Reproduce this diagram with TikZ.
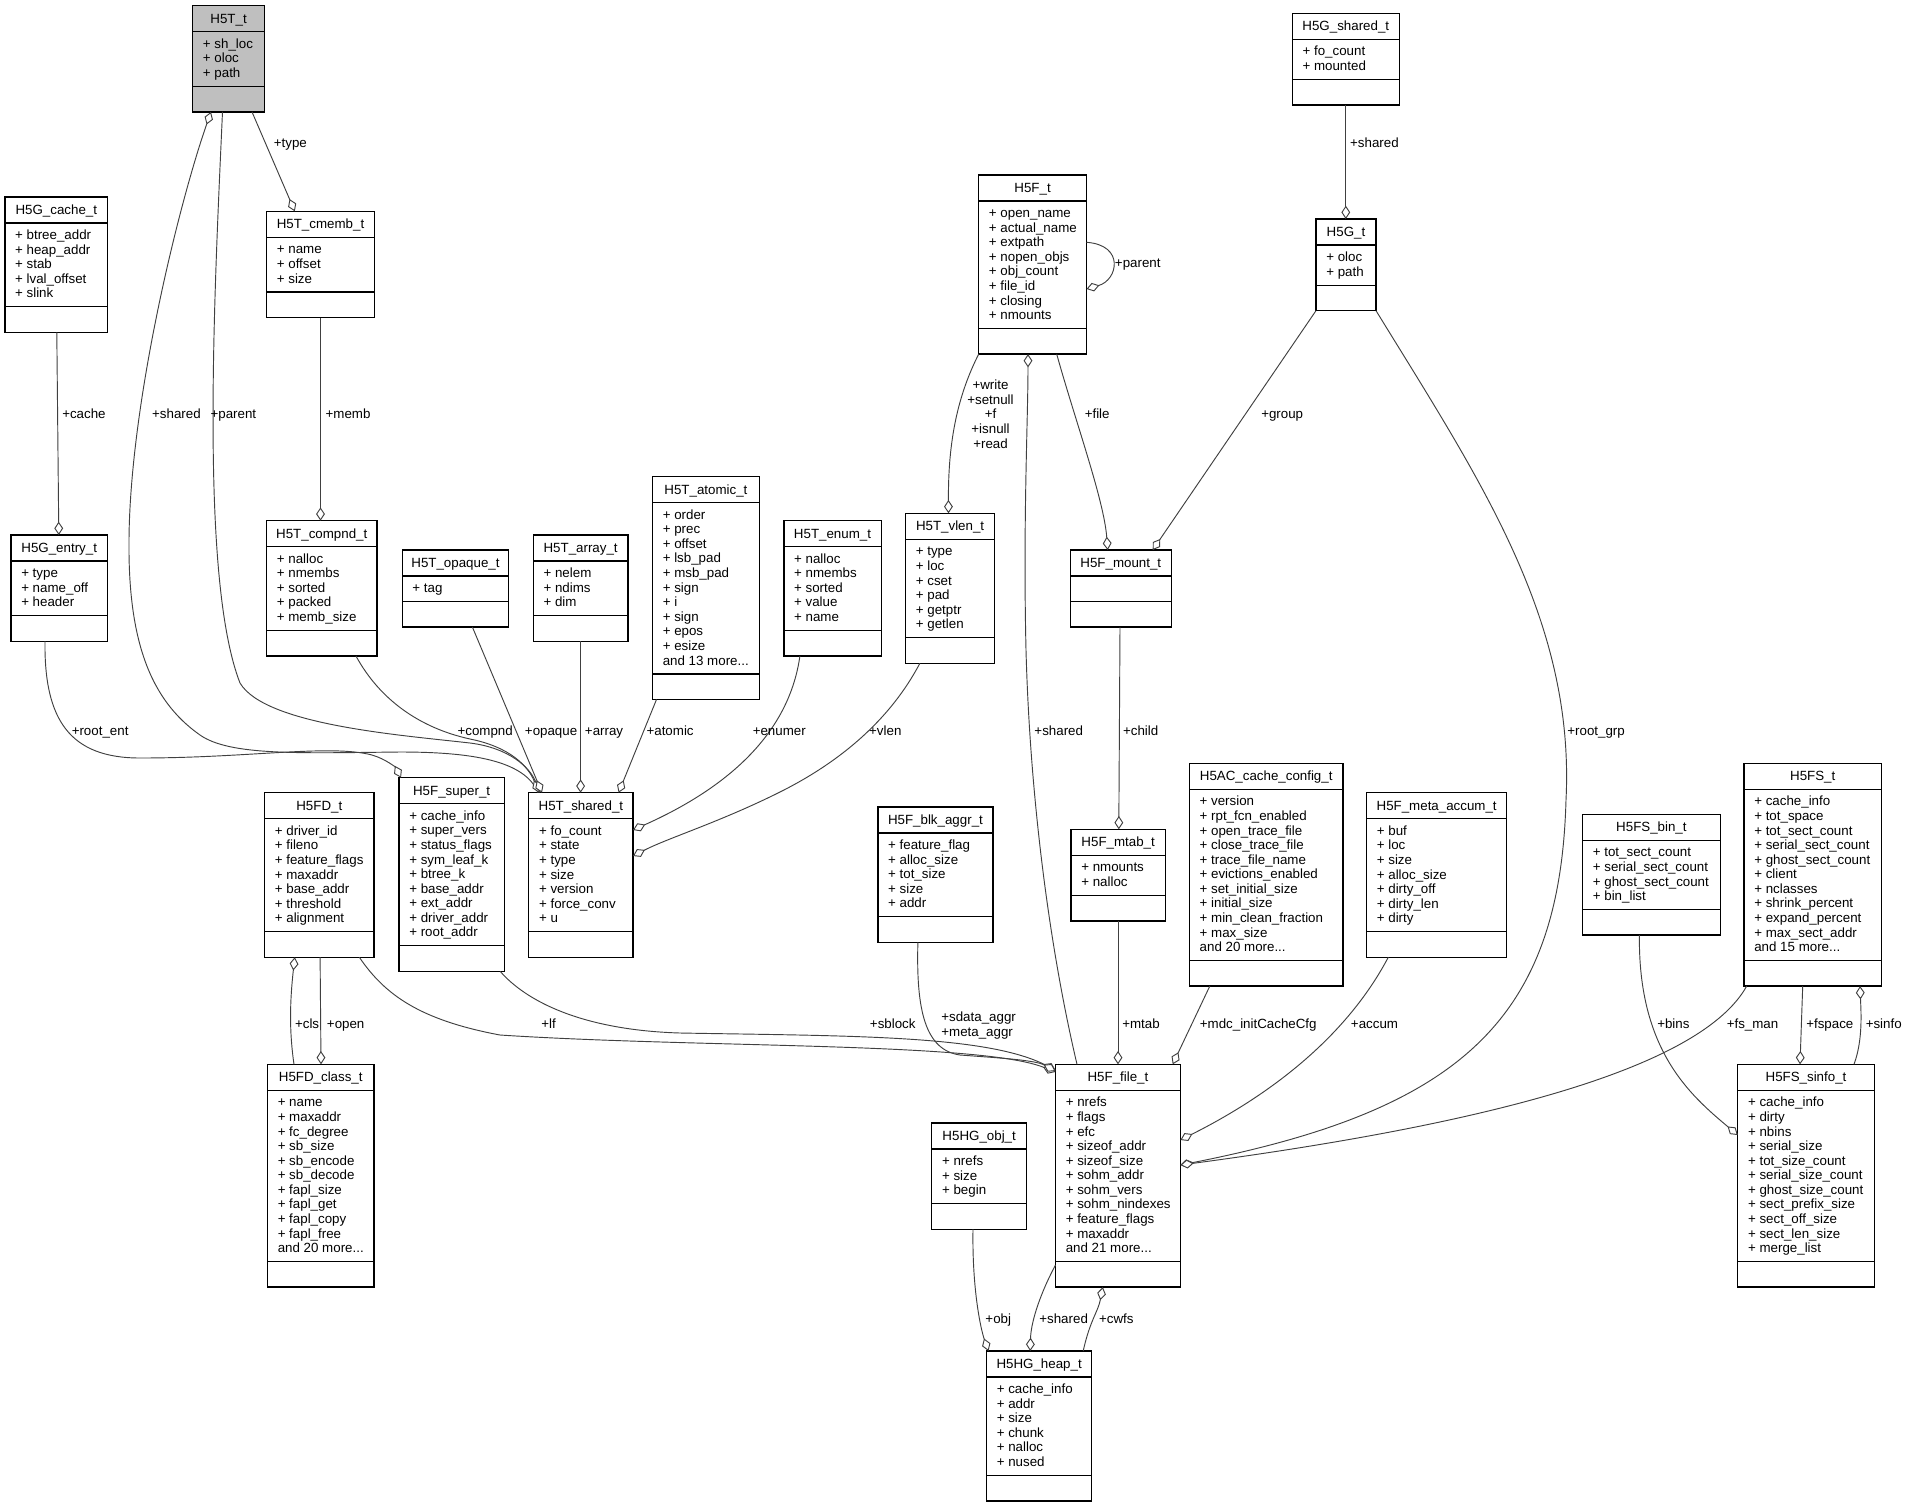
\documentclass[tikz,border=0pt]{standalone}
\usepackage{fontspec}
\setmainfont{Liberation Sans}
\usetikzlibrary{arrows.meta,calc}
\definecolor{edgecol}{HTML}{404040}
\definecolor{hdrgray}{HTML}{BFBFBF}
\tikzset{
  classbox/.style={draw=black, line width=0.9pt, fill=white, anchor=north west, inner sep=0pt, outer sep=0pt},
  classline/.style={draw=black, line width=0.9pt},
  titletext/.style={anchor=base, inner sep=0pt},
  attrtext/.style={anchor=north west, align=left, inner sep=0pt},
  edge/.style={draw=edgecol, line width=0.7pt},
  agg/.style={-{Diamond[fill=white,length=10pt,width=6.6pt]}},
  lbl/.style={anchor=base west, inner sep=0pt},
  lblml/.style={align=left, anchor=north west, inner sep=0pt}
}
% #1 extra style, #2 name, #3 x left, #4 y top, #5 x right, #6 attribute lines, #7 title, #8 attributes
\newcommand{\umlclass}[8][]{%
  \pgfmathsetmacro{\ucw}{(#5-#3)*0.75}%
  \pgfmathsetmacro{\ucm}{#6*14.57+11}%
  \pgfmathsetmacro{\uch}{(51.5+\ucm)*0.75}%
  \node[classbox,#1,minimum width=\ucw pt,minimum height=\uch pt] (#2) at (#3,#4) {};
  \draw[classline] (#3,#4+26) -- (#5,#4+26);
  \draw[classline] (#3,#4+26+\ucm) -- (#5,#4+26+\ucm);
  \node[titletext] (#2-t) at ({(#3+#5)/2},#4+17.3) {#7};
  \node[attrtext] (#2-a) at (#3+10,#4+32.1) {#8};
}
\begin{document}
\begin{tikzpicture}[x=0.75pt,y=-0.75pt,font=\fontsize{10}{10.93}\selectfont]
\fill[white] (0,0) rectangle (1907,1507);
\useasboundingbox (0,0) rectangle (1907,1507);

% ---------- classes ----------
\umlclass[fill=hdrgray]{H5Tt}{192.7}{5.7}{264.5}{3}{H5T\_t}{\strut + sh\_loc\\+ oloc\\+ path}
\umlclass{H5Gcache}{4.9}{197}{107.8}{5}{H5G\_cache\_t}{\strut + btree\_addr\\+ heap\_addr\\+ stab\\+ lval\_offset\\+ slink}
\umlclass{H5Tcmemb}{266.6}{211.3}{374.4}{3}{H5T\_cmemb\_t}{\strut + name\\+ offset\\+ size}
\umlclass{H5Ft}{978.7}{175}{1086.5}{8}{H5F\_t}{\strut + open\_name\\+ actual\_name\\+ extpath\\+ nopen\_objs\\+ obj\_count\\+ file\_id\\+ closing\\+ nmounts}
\umlclass{H5Gshared}{1292.3}{13.3}{1399.3}{2}{H5G\_shared\_t}{\strut + fo\_count\\+ mounted}
\umlclass{H5Gt}{1316}{219}{1376}{2}{H5G\_t}{\strut + oloc\\+ path}
\umlclass{H5Gentry}{11}{535}{107.4}{3}{H5G\_entry\_t}{\strut + type\\+ name\_off\\+ header}
\umlclass{H5Tcompnd}{266.6}{520.7}{376.9}{5}{H5T\_compnd\_t}{\strut + nalloc\\+ nmembs\\+ sorted\\+ packed\\+ memb\_size}
\umlclass{H5Topaque}{402.2}{550}{508.8}{1}{H5T\_opaque\_t}{\strut + tag}
\umlclass{H5Tarray}{533.3}{535}{628}{3}{H5T\_array\_t}{\strut + nelem\\+ ndims\\+ dim}
\umlclass{H5Tshared}{528.8}{792.7}{633}{7}{H5T\_shared\_t}{\strut + fo\_count\\+ state\\+ type\\+ size\\+ version\\+ force\_conv\\+ u}
\umlclass{H5Fsuper}{399}{777.7}{504.3}{9}{H5F\_super\_t}{\strut + cache\_info\\+ super\_vers\\+ status\_flags\\+ sym\_leaf\_k\\+ btree\_k\\+ base\_addr\\+ ext\_addr\\+ driver\_addr\\+ root\_addr}
\umlclass{H5FDt}{264.6}{792.7}{374}{7}{H5FD\_t}{\strut + driver\_id\\+ fileno\\+ feature\_flags\\+ maxaddr\\+ base\_addr\\+ threshold\\+ alignment}
\umlclass{H5Tatomic}{652.5}{476.7}{759.4}{11}{H5T\_atomic\_t}{\strut + order\\+ prec\\+ offset\\+ lsb\_pad\\+ msb\_pad\\+ sign\\+ i\\+ sign\\+ epos\\+ esize\\and 13 more...}
\umlclass{H5Tenum}{783.9}{520.7}{881.1}{5}{H5T\_enum\_t}{\strut + nalloc\\+ nmembs\\+ sorted\\+ value\\+ name}
\umlclass{H5Tvlen}{905.6}{513.3}{994.6}{6}{H5T\_vlen\_t}{\strut + type\\+ loc\\+ cset\\+ pad\\+ getptr\\+ getlen}
\umlclass{H5Fmount}{1070.2}{550}{1171.4}{1}{H5F\_mount\_t}{}
\umlclass{H5Fmtab}{1071}{829.3}{1165.3}{2}{H5F\_mtab\_t}{\strut + nmounts\\+ nalloc}
\umlclass{H5Fblk}{877.9}{807}{993}{5}{H5F\_blk\_aggr\_t}{\strut + feature\_flag\\+ alloc\_size\\+ tot\_size\\+ size\\+ addr}
\umlclass{H5ACcc}{1189.4}{763.3}{1343}{11}{H5AC\_cache\_config\_t}{\strut + version\\+ rpt\_fcn\_enabled\\+ open\_trace\_file\\+ close\_trace\_file\\+ trace\_file\_name\\+ evictions\_enabled\\+ set\_initial\_size\\+ initial\_size\\+ min\_clean\_fraction\\+ max\_size\\and 20 more...}
\umlclass{H5Fmeta}{1366.6}{792.7}{1506.7}{7}{H5F\_meta\_accum\_t}{\strut + buf\\+ loc\\+ size\\+ alloc\_size\\+ dirty\_off\\+ dirty\_len\\+ dirty}
\umlclass{H5FSbin}{1582.6}{814.3}{1720.2}{4}{H5FS\_bin\_t}{\strut + tot\_sect\_count\\+ serial\_sect\_count\\+ ghost\_sect\_count\\+ bin\_list}
\umlclass{H5FS}{1744}{763.3}{1881.5}{11}{H5FS\_t}{\strut + cache\_info\\+ tot\_space\\+ tot\_sect\_count\\+ serial\_sect\_count\\+ ghost\_sect\_count\\+ client\\+ nclasses\\+ shrink\_percent\\+ expand\_percent\\+ max\_sect\_addr\\and 15 more...}
\umlclass{H5FDclass}{267.5}{1064.3}{374}{11}{H5FD\_class\_t}{\strut + name\\+ maxaddr\\+ fc\_degree\\+ sb\_size\\+ sb\_encode\\+ sb\_decode\\+ fapl\_size\\+ fapl\_get\\+ fapl\_copy\\+ fapl\_free\\and 20 more...}
\umlclass{H5Ffile}{1055.5}{1064.3}{1180.4}{11}{H5F\_file\_t}{\strut + nrefs\\+ flags\\+ efc\\+ sizeof\_addr\\+ sizeof\_size\\+ sohm\_addr\\+ sohm\_vers\\+ sohm\_nindexes\\+ feature\_flags\\+ maxaddr\\and 21 more...}
\umlclass{H5HGobj}{931.8}{1123}{1026.5}{3}{H5HG\_obj\_t}{\strut + nrefs\\+ size\\+ begin}
\umlclass{H5HGheap}{986.5}{1351}{1091.8}{6}{H5HG\_heap\_t}{\strut + cache\_info\\+ addr\\+ size\\+ chunk\\+ nalloc\\+ nused}
\umlclass{H5FSsinfo}{1737.8}{1064.3}{1874.2}{11}{H5FS\_sinfo\_t}{\strut + cache\_info\\+ dirty\\+ nbins\\+ serial\_size\\+ tot\_size\_count\\+ serial\_size\_count\\+ ghost\_size\_count\\+ sect\_prefix\_size\\+ sect\_off\_size\\+ sect\_len\_size\\+ merge\_list}

% ---------- connectors ----------
\draw[edge,agg] (H5Tshared.north -| 538,0) .. controls (525,760) and (470,752) .. (400,752) .. controls (300,753) and (230,756) .. (200,735) .. controls (150,700) and (128,640) .. (129,540) .. controls (130,400) and (180,200) .. (H5Tt.south -| 211,0);
\draw[edge,agg] (H5Tt.south -| 222.5,0) .. controls (214,300) and (200,580) .. (240,683) .. controls (265,725) and (400,735) .. (470,743) .. controls (510,748) and (530,768) .. (H5Tshared.north -| 540,0);
\draw[edge,agg] (H5Tt.south -| 252,0) -- (H5Tcmemb.north -| 294.8,0);
\draw[edge,agg] (H5Gcache.south -| 56.8,0) -- (H5Gentry.north -| 58.8,0);
\draw[edge,agg] (H5Tcmemb.south -| 320.5,0) -- (H5Tcompnd.north -| 320.5,0);
\draw[edge,agg] (H5Gentry.south -| 45,0) .. controls (44,720) and (70,758) .. (140,758) .. controls (250,758) and (330,744) .. (372,755) .. controls (386,759) and (396,768) .. (H5Fsuper.north -| 401,0);
\draw[edge,agg] (H5Tcompnd.south -| 356,0) .. controls (380,700) and (420,728) .. (470,739) .. controls (510,747) and (528,766) .. (H5Tshared.north -| 539,0);
\draw[edge,agg] (H5Topaque.south -| 472.4,0) -- (H5Tshared.north -| 542,0);
\draw[edge,agg] (H5Tarray.south -| 580.6,0) -- (H5Tshared.north -| 580.6,0);
\draw[edge,agg] (H5Tatomic.south -| 656.5,0) -- (H5Tshared.north -| 618.6,0);
\draw[edge,agg] (H5Tenum.south -| 799.9,0) .. controls (788,740) and (718,792) .. (H5Tshared.east |- 0,830);
\draw[edge,agg] (H5Tvlen.south -| 919.9,0) .. controls (890,720) and (840,762) .. (780,792) .. controls (720,822) and (668,838) .. (H5Tshared.east |- 0,856);
\draw[edge,agg] (H5Ft.south west) .. controls (958,395) and (948,440) .. (H5Tvlen.north -| 948.5,0);
\draw[edge,agg] (H5Ft.east |- 0,242.3) .. controls (1125,245) and (1118,280) .. (H5Ft.east |- 0,289);
\draw[edge,agg] (H5Ffile.north -| 1077,0) .. controls (1050,950) and (1030,800) .. (1026,650) .. controls (1023,520) and (1028,420) .. (H5Ft.south -| 1028,0);
\draw[edge,agg] (H5Ft.south -| 1056.7,0) .. controls (1075,420) and (1104,500) .. (H5Fmount.north -| 1107.7,0);
\draw[edge,agg] (H5Gt.south west) -- (H5Fmount.north -| 1152.7,0);
\draw[edge,agg] (H5Gshared.south -| 1345.8,0) -- (H5Gt.north -| 1345.8,0);
\draw[edge,agg] (H5Gt.south east) .. controls (1480,480) and (1575,620) .. (1566,800) .. controls (1560,1020) and (1460,1110) .. (H5Ffile.east |- 0,1165);
\draw[edge,agg] (H5Fmount.south -| 1120,0) -- (H5Fmtab.north -| 1118.8,0);
\draw[edge,agg] (H5Fmtab.south -| 1118,0) -- (H5Ffile.north -| 1118,0);
\draw[edge,agg] (H5ACcc.south -| 1209.8,0) -- (H5Ffile.north -| 1172.7,0);
\draw[edge,agg] (H5Fmeta.south -| 1388.3,0) .. controls (1350,1030) and (1280,1090) .. (H5Ffile.east |- 0,1140);
\draw[edge,agg] (H5FS.south -| 1746.7,0) .. controls (1700,1070) and (1480,1125) .. (H5Ffile.east |- 0,1165);
\draw[edge,agg] (H5FSbin.south -| 1639.4,0) .. controls (1638,1050) and (1690,1095) .. (H5FSsinfo.west |- 0,1135);
\draw[edge,agg] (H5FS.south -| 1802.7,0) -- (H5FSsinfo.north -| 1800,0);
\draw[edge,agg] (H5FSsinfo.north -| 1854,0) .. controls (1863,1040) and (1861,1012) .. (H5FS.south -| 1860,0);
\draw[edge,agg] (H5FDclass.north -| 294,0) .. controls (289,1030) and (290,1000) .. (H5FDt.south -| 294.8,0);
\draw[edge,agg] (H5FDt.south -| 320.1,0) -- (H5FDclass.north -| 321,0);
\draw[edge,agg] (H5FDt.south -| 359.3,0) .. controls (385,995) and (420,1020) .. (500,1035) .. controls (700,1048) and (980,1042) .. (H5Ffile.west |- 0,1072);
\draw[edge,agg] (H5Fsuper.south -| 500.2,0) .. controls (525,1000) and (580,1030) .. (680,1033) .. controls (850,1036) and (985,1035) .. (H5Ffile.west |- 0,1070);
\draw[edge,agg] (H5Fblk.south -| 917.9,0) .. controls (916,1010) and (925,1050) .. (960,1055) .. controls (1000,1058) and (1035,1060) .. (H5Ffile.west |- 0,1071);
\draw[edge,agg] (H5HGobj.south -| 973,0) .. controls (972,1290) and (981,1330) .. (H5HGheap.north -| 988.5,0);
\draw[edge,agg] (H5Ffile.west |- 0,1265) .. controls (1042,1290) and (1031,1320) .. (H5HGheap.north -| 1030.2,0);
\draw[edge,agg] (H5HGheap.north -| 1083.2,0) .. controls (1090,1320) and (1098,1312) .. (H5Ffile.south -| 1102.8,0);

% ---------- labels ----------
\node[lbl] (lType) at (273.6,147.2) {+type};
\node[lbl] (lSharedG) at (1349.9,147.2) {+shared};
\node[lbl] (lParentF) at (1114.7,267.8) {+parent};
\node[lbl] (lCache) at (62,418.8) {+cache};
\node[lbl] (lSharedT) at (151.9,418.8) {+shared};
\node[lbl] (lParentT) at (210.3,418.8) {+parent};
\node[lbl] (lMemb) at (325.4,418.8) {+memb};
\node[lbl] (lFile) at (1084.5,418.8) {+file};
\node[lbl] (lGroup) at (1261,418.8) {+group};
\node[anchor=north, align=center, inner sep=0pt] (lWrite) at (990.5,379.3) {\strut+write\\+setnull\\+f\\+isnull\\+read};
\node[lbl] (lRootEnt) at (71.5,735.2) {+root\_ent};
\node[lbl] (lCompnd) at (457.3,735.2) {+compnd};
\node[lbl] (lOpaque) at (524.7,735.2) {+opaque};
\node[lbl] (lArray) at (584.7,735.2) {+array};
\node[lbl] (lAtomic) at (646.3,735.2) {+atomic};
\node[lbl] (lEnumer) at (752.5,735.2) {+enumer};
\node[lbl] (lVlen) at (868.9,735.2) {+vlen};
\node[lbl] (lSharedF) at (1034.2,735.2) {+shared};
\node[lbl] (lChild) at (1122.8,735.2) {+child};
\node[lbl] (lRootGrp) at (1567.1,735.2) {+root\_grp};
\node[lbl] (lCls) at (294.8,1028.8) {+cls};
\node[lbl] (lOpen) at (326.7,1028.8) {+open};
\node[lbl] (lLf) at (541,1028.8) {+lf};
\node[lbl] (lSblock) at (869.7,1028.8) {+sblock};
\node[lblml] (lAggr) at (941.1,1011) {\strut+sdata\_aggr\\+meta\_aggr};
\node[lbl] (lMtab) at (1122,1028.8) {+mtab};
\node[lbl] (lMdc) at (1199.6,1028.8) {+mdc\_initCacheCfg};
\node[lbl] (lAccum) at (1350.7,1028.8) {+accum};
\node[lbl] (lBins) at (1657,1028.8) {+bins};
\node[lbl] (lFsMan) at (1726.5,1028.8) {+fs\_man};
\node[lbl] (lFspace) at (1806,1028.8) {+fspace};
\node[lbl] (lSinfo) at (1865.5,1028.8) {+sinfo};
\node[lbl] (lObj) at (985.2,1323.5) {+obj};
\node[lbl] (lSharedH) at (1039.1,1323.5) {+shared};
\node[lbl] (lCwfs) at (1098.8,1323.5) {+cwfs};
\end{tikzpicture}
\end{document}
